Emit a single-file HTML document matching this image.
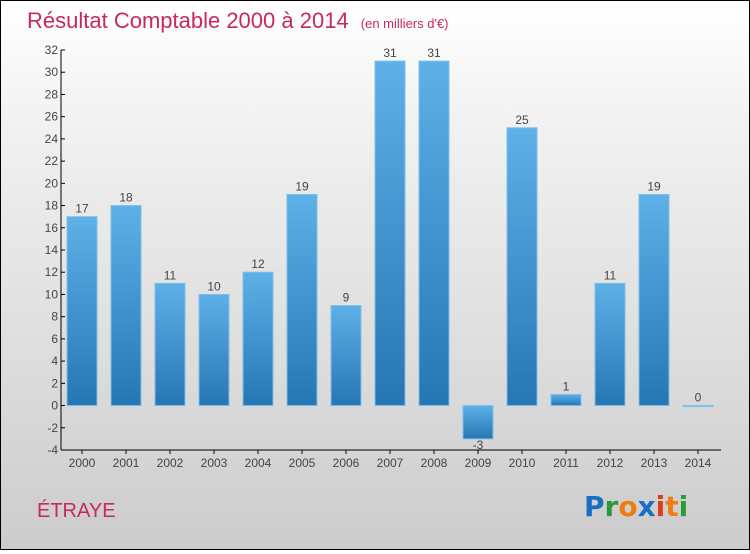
<!DOCTYPE html>
<html><head><meta charset="utf-8"><style>
html,body{margin:0;padding:0}
body{width:750px;height:550px;overflow:hidden;font-family:"Liberation Sans",sans-serif}
#wrap{position:relative;width:748px;height:548px;border:1px solid #000;background:linear-gradient(#ffffff,#f0f0f0 25%,#cccccc)}
</style></head><body>
<div id="wrap">
<svg id="chart" width="748" height="548">
<defs>
<linearGradient id="bg" x1="0" y1="0" x2="0" y2="1"><stop offset="0" stop-color="#5eb0e8"/><stop offset="1" stop-color="#2676b3"/></linearGradient>
</defs>
<text x="26" y="27" font-size="22" fill="#c8285c">Résultat Comptable 2000 à 2014 <tspan font-size="13" dx="6">(en milliers d'€)</tspan></text>
<text x="36" y="516" font-size="20" fill="#c8285c">ÉTRAYE</text>
<g font-size="28" font-family="'DejaVu Sans',sans-serif" font-weight="bold">
<text x="583" y="515"><tspan fill="#1a6fc4">P</tspan><tspan fill="#2a9a3a">r</tspan><tspan fill="#f07d12">o</tspan><tspan fill="#1a6fc4">x</tspan><tspan fill="#e03a1a">i</tspan><tspan fill="#f07d12">t</tspan><tspan fill="#2a9a3a">i</tspan></text>
</g>
<g id="axes"></g><g id="bars"></g>
</svg>
</div>
<script>
const categories=["2000","2001","2002","2003","2004","2005","2006","2007","2008","2009","2010","2011","2012","2013","2014"];
const values=[17,18,11,10,12,19,9,31,31,-3,25,1,11,19,0];
const yTicks=[-4,-2,0,2,4,6,8,10,12,14,16,18,20,22,24,26,28,30,32];
(function(){
const NS="http://www.w3.org/2000/svg";
const yMin=-4,yMax=32,plotTop=49,plotBot=449,axX=60,x0=81,step=44,bw=30;
function y(v){return plotBot-(v-yMin)/(yMax-yMin)*(plotBot-plotTop);}
function x(i){return x0+i*step;}
function mk(t,a,p){const e=document.createElementNS(NS,t);for(const k in a)e.setAttribute(k,a[k]);p.appendChild(e);return e;}
const ax=document.getElementById('axes'),bg=document.getElementById('bars');
const yl=mk('line',{x1:axX,y1:plotTop,x2:axX,y2:plotBot,stroke:'#000','stroke-width':1},ax);


const xl=mk('line',{x1:axX,y1:plotBot,x2:720,y2:plotBot,stroke:'#000','stroke-width':1},ax);


yTicks.forEach(t=>{
  mk('line',{x1:axX,y1:y(t),x2:axX+4,y2:y(t),stroke:'#000'},ax);
  const tx=mk('text',{x:axX-3,y:y(t)+4,'text-anchor':'end','font-size':12,fill:'#444'},ax);
  tx.textContent=t;
  
  
});
categories.forEach((c,i)=>{
  mk('line',{x1:x(i),y1:plotBot,x2:x(i),y2:plotBot+4,stroke:'#000'},ax);
  const tx=mk('text',{x:x(i),y:plotBot+17,'text-anchor':'middle','font-size':12,fill:'#444'},ax);
  tx.textContent=c;
  
  
  const v=values[i];
  const y1=Math.min(y(v),y(0)),h=Math.max(Math.abs(y(v)-y(0)),1);
  const r=mk('rect',{x:x(i)-bw/2,y:y1,width:bw,height:h,fill:'url(#bg)',stroke:'#7fbfea','stroke-width':1},bg);
  
  
  const lb=mk('text',{x:x(i),y:(v>=0?y(v)-4:y(v)+10),'text-anchor':'middle','font-size':12,fill:'#444'},bg);
  lb.textContent=v;
  
  
});
})();
</script>
</body></html>
